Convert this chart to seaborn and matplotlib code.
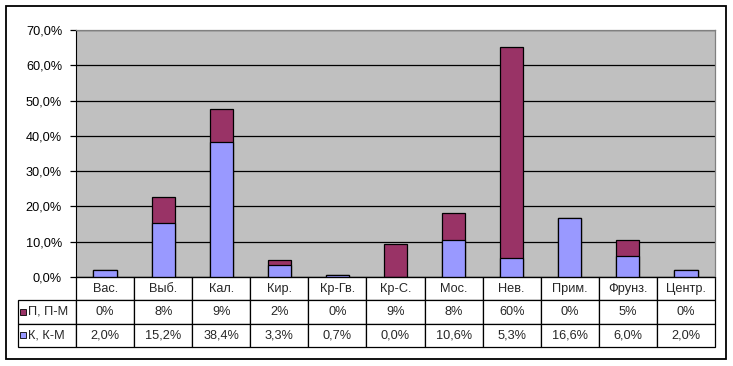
import numpy as np
import pandas as pd
import seaborn as sns
import matplotlib
matplotlib.use("Agg")
import matplotlib.pyplot as plt
from matplotlib.ticker import FuncFormatter, MultipleLocator
from matplotlib.patches import Rectangle

# data
districts = ["Вас.", "Выб.", "Кал.", "Кир.", "Кр-Гв.", "Кр-С.", "Мос.", "Нев.", "Прим.", "Фрунз.", "Центр."]
k_vals = [2.0, 15.2, 38.4, 3.3, 0.7, 0.0, 10.6, 5.3, 16.6, 6.0, 2.0]
p_vals = [0.0, 7.6, 9.3, 1.5, 0.0, 9.3, 7.6, 59.9, 0.0, 4.5, 0.0]
p_labels = ["0%", "8%", "9%", "2%", "0%", "9%", "8%", "60%", "0%", "5%", "0%"]
k_labels = ["2,0%", "15,2%", "38,4%", "3,3%", "0,7%", "0,0%", "10,6%", "5,3%", "16,6%", "6,0%", "2,0%"]
series_names = ["П, П-М", "К, К-М"]
c_p = "#993366"
c_k = "#9999FF"

df = pd.DataFrame({"district": districts, "k": k_vals, "p": p_vals})
df["total"] = df["k"] + df["p"]

FS = 9.2
sns.set_style("white")
plt.rcParams["font.family"] = ["Liberation Sans", "DejaVu Sans"]
plt.rcParams["font.size"] = FS

W, H = 733, 366
fig = plt.figure(figsize=(W / 100, H / 100), dpi=100)
ax = fig.add_axes([76 / W, (H - 277) / H, 639 / W, 247 / H])

# outer frame of the chart
fig.patches.append(Rectangle((6 / W, 7 / H), 720 / W, 353 / H, transform=fig.transFigure,
                             fill=False, edgecolor="black", linewidth=1.3))

ax.set_facecolor("#C0C0C0")
ax.set_axisbelow(True)
ax.yaxis.set_major_locator(MultipleLocator(10))
ax.grid(axis="y", color="black", linewidth=0.9)

sns.barplot(data=df, x="district", y="total", color=c_p, width=0.4, saturation=1,
            edgecolor="black", linewidth=0.9, ax=ax)
sns.barplot(data=df, x="district", y="k", color=c_k, width=0.4, saturation=1,
            edgecolor="black", linewidth=0.9, ax=ax)

ax.set_ylim(0, 70)
ax.set_xlim(-0.5, len(districts) - 0.5)
ax.yaxis.set_major_formatter(FuncFormatter(lambda v, _: f"{v:.1f}%".replace(".", ",")))
ax.tick_params(axis="y", left=True, length=4, width=0.9, pad=6, labelsize=FS, colors="black")
ax.tick_params(axis="x", bottom=False, labelbottom=False)
ax.set_xlabel("")
ax.set_ylabel("")
for side in ["top", "right"]:
    ax.spines[side].set_color("#808080")
    ax.spines[side].set_linewidth(0.9)
ax.spines["left"].set_color("black")
ax.spines["bottom"].set_color("black")

# data table under the plot
cell_text = [[""] + districts, [""] + p_labels, [""] + k_labels]
x0 = (18 - 76) / 639
tbl = ax.table(cellText=cell_text, cellLoc="center", colWidths=[1 / 12] * 12,
               bbox=[x0, (277 - 347) / 247, 1 - x0, 70 / 247])
tbl.auto_set_font_size(False)
tbl.set_fontsize(FS)
for (r, c), cell in tbl.get_celld().items():
    cell.set_linewidth(0.9)
    cell.set_edgecolor("black")
    cell.set_facecolor("white")
    if r == 0 and c == 0:
        cell.visible_edges = ""

# legend keys inside the label column
row_h = (70 / 247) / 3
for i, (name, col) in enumerate(zip(series_names, [c_p, c_k])):
    yc = (277 - 347) / 247 + row_h * (1.5 - i)
    ax.add_patch(Rectangle(((20 - 76) / 639, yc - 0.012), 6 / 639, 0.024, transform=ax.transAxes,
                           facecolor=col, edgecolor="black", linewidth=0.6, clip_on=False))
    ax.text((28 - 76) / 639, yc, name, transform=ax.transAxes, ha="left", va="center",
            fontsize=FS)

fig.savefig("out.png", dpi=100, facecolor="white")
